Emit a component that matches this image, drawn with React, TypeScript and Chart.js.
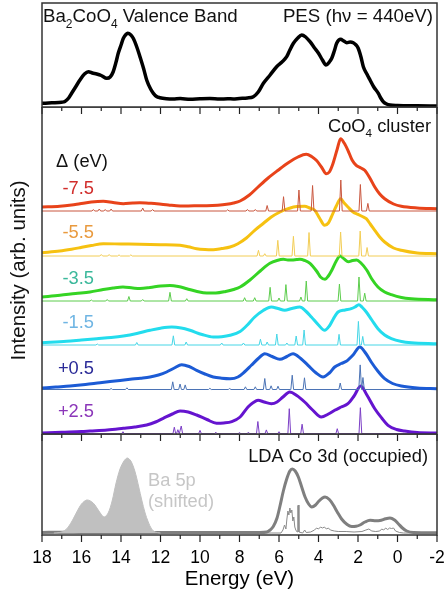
import React, { useEffect, useRef } from 'react';
import { Chart, registerables } from 'chart.js';
Chart.register(...registerables);

type Pair = [number, number];

// ---------- axis ----------
const E_MIN = -2;
const E_MAX = 18;
const xTickValues = [18, 16, 14, 12, 10, 8, 6, 4, 2, 0, -2];
const xTickLabels = ['18', '16', '14', '12', '10', '8', '6', '4', '2', '0', '-2'];

// ---------- top panel: PES (hv = 440 eV) ----------
const pesSpectrum: Pair[] = [
  [18.0, 3.7], [17.5, 4.2], [17.0, 4.8], [16.84, 5.5], [16.65, 9], [16.5, 13.7], [16.3, 20], [16.08, 27],
  [15.85, 33], [15.65, 35.3], [15.45, 34], [15.23, 33], [15.0, 31.5], [14.72, 28.7], [14.55, 30], [14.4, 35],
  [14.25, 45], [14.14, 53.7], [13.98, 63], [13.88, 68.7], [13.75, 72.5], [13.66, 73.7], [13.5, 72], [13.38, 68.7],
  [13.2, 60], [13.04, 50.3], [12.85, 38], [12.7, 27], [12.5, 18], [12.36, 13.7], [12.2, 10.5], [12.03, 9.3],
  [11.7, 8.3], [11.36, 8], [11.0, 8.4], [10.5, 7.7], [10.0, 8.2], [9.5, 8.5], [9.0, 7.9], [8.6, 8.3], [8.32, 8],
  [8.0, 8.5], [7.6, 9], [7.3, 10.3], [7.05, 15], [6.79, 23.7], [6.45, 32], [6.12, 40.3], [5.85, 45], [5.61, 50.3],
  [5.45, 57], [5.27, 63.7], [5.05, 69], [4.85, 72], [4.65, 70], [4.43, 65.3], [4.2, 59], [4.0, 53.7], [3.8, 47],
  [3.62, 42], [3.45, 45], [3.33, 48.7], [3.2, 56], [3.08, 63.7], [2.88, 67.7], [2.72, 66], [2.57, 64.3], [2.4, 65],
  [2.24, 64.3], [2.1, 62], [1.99, 58.7], [1.85, 50], [1.73, 40.3], [1.55, 33], [1.39, 27], [1.2, 20], [0.97, 13.7],
  [0.85, 9], [0.72, 5.3], [0.55, 3], [0.38, 2], [0, 1.5], [-1, 1.2], [-2, 1],
];

// ---------- middle panel: CoO4 cluster, broadened spectra ----------
const deltaLabels = ['-7.5', '-5.5', '-3.5', '-1.5', '+0.5', '+2.5'];

const curveM75: Pair[] = [
  [18, 2], [17.1, 2.7], [16.5, 4], [16.08, 5.3], [15.5, 7], [14.9, 7.7], [14.4, 6.5], [13.88, 5.3], [13.4, 6],
  [13.04, 6.3], [12.6, 5.8], [12.19, 5.3], [11.6, 4], [11.01, 3], [10.3, 3.2], [9.66, 3.3], [9.1, 3.8], [8.65, 4.7],
  [8.3, 6], [7.97, 8], [7.5, 14], [7.06, 22], [6.55, 31], [6.05, 38.7], [5.55, 46], [5.04, 52], [4.62, 54.7],
  [4.35, 52.5], [4.11, 48.7], [3.85, 42], [3.61, 35.3], [3.45, 37], [3.27, 45.3], [3.05, 60], [2.88, 70.3],
  [2.7, 66], [2.51, 58.7], [2.3, 49], [2.09, 43.7], [1.85, 41], [1.66, 38.7], [1.4, 31], [1.15, 22], [0.9, 15],
  [0.65, 10.3], [0.2, 5], [-0.19, 2.7], [-1, 1], [-2, 0.3],
];
const curveM55: Pair[] = [
  [18, 1.3], [17.1, 3], [16.5, 4.8], [16.08, 6.3], [15.5, 8.5], [14.9, 10.3], [14.0, 10], [13.04, 9.7], [12.0, 9.3],
  [11.01, 8.7], [10.6, 7.3], [10.17, 5.3], [9.75, 4.5], [9.33, 4.3], [8.9, 5.5], [8.48, 7], [8.08, 10.3], [7.65, 16],
  [7.23, 23.7], [6.8, 30.5], [6.39, 37], [5.95, 42], [5.54, 45.3], [5.1, 47.5], [4.7, 47.7], [4.45, 46], [4.19, 43.7],
  [3.95, 36], [3.69, 28.7], [3.5, 31], [3.35, 37], [3.1, 48], [2.88, 55.3], [2.7, 51], [2.51, 47], [2.25, 42],
  [2.0, 39.7], [1.78, 37.5], [1.58, 35.3], [1.38, 30], [1.15, 23.7], [0.9, 17], [0.65, 12], [0.2, 6], [-0.19, 3.7],
  [-1, 1], [-2, 0.3],
];
const curveM35: Pair[] = [
  [18, 3], [17.09, 4.7], [16.3, 6.5], [15.57, 8], [14.9, 10.5], [14.4, 12], [13.9, 13], [13.4, 12], [13.04, 11.5],
  [12.53, 12.5], [12.0, 14], [11.52, 14.5], [11.1, 13.5], [10.67, 11.3], [10.15, 8.5], [9.66, 7], [9.2, 7],
  [8.7, 8.5], [8.3, 10.5], [7.97, 13], [7.47, 20], [6.95, 29], [6.46, 36.7], [6.1, 39.5], [5.78, 40.7], [5.55, 40],
  [5.34, 40], [5.1, 40.5], [4.94, 40.7], [4.7, 39.5], [4.43, 36.7], [4.1, 29], [3.9, 23], [3.67, 20.7], [3.5, 24],
  [3.32, 30], [3.1, 39], [2.91, 44], [2.7, 41], [2.49, 38.3], [2.28, 39.5], [2.07, 40], [1.85, 37], [1.56, 30],
  [1.3, 21], [0.99, 13], [0.65, 8], [0.31, 5.3], [-0.2, 2.5], [-0.7, 1.3], [-2, 0.3],
];
const curveM15: Pair[] = [
  [18, 1.3], [16.75, 2.7], [16.0, 4], [15.23, 5.3], [14.5, 6.5], [13.88, 8], [13.2, 10.5], [12.53, 13.7],
  [12.0, 15.8], [11.43, 17], [10.95, 16], [10.51, 13.7], [9.9, 9.5], [9.33, 7], [8.9, 7.3], [8.48, 8.7],
  [7.97, 12.5], [7.6, 19], [7.23, 27], [6.8, 33.5], [6.39, 37], [6.05, 35.5], [5.71, 33.7], [5.35, 35.5],
  [4.95, 37], [4.65, 33], [4.36, 27], [4.0, 19], [3.69, 13.7], [3.45, 18], [3.25, 25], [3.01, 32], [2.65, 34],
  [2.34, 35.3], [2.15, 37], [1.96, 39.3], [1.78, 36.5], [1.58, 32], [1.3, 24], [0.99, 15.3], [0.65, 9],
  [0.31, 5.3], [-0.2, 2.5], [-0.7, 1.3], [-2, 0.3],
];
const curveP05: Pair[] = [
  [18, 1], [17.3, 2], [16.58, 3], [15.8, 4.5], [15.06, 6.3], [14.3, 8], [13.54, 9.7], [13.0, 10.8], [12.53, 12],
  [12.1, 14], [11.69, 17], [11.3, 21], [10.93, 24.3], [10.55, 22.5], [10.17, 18.7], [9.75, 15], [9.33, 12],
  [8.9, 10.8], [8.48, 10.3], [8.08, 12], [7.75, 17], [7.4, 23.7], [7.05, 30.5], [6.72, 35.3], [6.35, 32.5],
  [5.96, 29.7], [5.6, 32.5], [5.29, 35.3], [4.9, 30.5], [4.53, 23.7], [4.15, 16.5], [3.77, 12], [3.45, 16],
  [3.18, 22], [2.85, 25.5], [2.59, 27.7], [2.25, 34], [1.91, 42], [1.6, 35.5], [1.33, 27], [1.0, 18],
  [0.65, 10.3], [0.25, 5.5], [-0.19, 3], [-1, 1], [-2, 0.3],
];
const curveP25: Pair[] = [
  [18, 0], [17, 0.8], [16, 1.5], [15.57, 2], [14.7, 3], [13.88, 4.7], [13.3, 6], [12.7, 8], [12.25, 11],
  [11.86, 14.7], [11.4, 19], [11.01, 22], [10.6, 21], [10.17, 18], [9.65, 13.5], [9.16, 9.7], [8.8, 10],
  [8.39, 11.3], [7.97, 16], [7.57, 26], [7.3, 30.5], [7.06, 32.7], [6.75, 31], [6.39, 29.3], [6.1, 31], [5.8, 36],
  [5.46, 41], [5.1, 37.5], [4.7, 31], [4.3, 23], [3.86, 16], [3.5, 19], [3.18, 22.7], [2.85, 26], [2.51, 29.3],
  [2.2, 37], [1.86, 47], [1.55, 38], [1.15, 24.3], [0.8, 15], [0.48, 7.7], [0.05, 3.5], [-0.36, 2], [-1, 0.5],
  [-2, 0],
];

// ---------- middle panel: stick (multiplet) spectra [energy, height] ----------
const sticksM75: Pair[] = [
  [15.4, 1.5], [15.1, 2], [14.8, 1.5], [14.5, 2], [12.9, 3], [12.4, 1.5], [8.6, 1.2], [7.6, 1.5], [7.2, 1.5],
  [6.6, 5.5], [5.77, 14.3], [4.99, 21], [4.3, 25.5], [2.87, 31], [1.88, 26.5], [1.5, 7.6],
];
const sticksM55: Pair[] = [
  [15.0, 1.5], [14.6, 1.5], [14.1, 1.2], [13.5, 1.2], [7.04, 5.7], [6.72, 2.3], [6.06, 15.7], [5.27, 19.7],
  [4.48, 23.5], [2.88, 24], [1.89, 25], [1.54, 8.5],
];
const sticksM35: Pair[] = [
  [15.5, 1], [14.7, 1.5], [13.6, 4.5], [12.9, 1.5], [11.52, 8.7], [10.67, 2.3], [7.74, 3.3], [7.23, 3.3],
  [6.45, 13.7], [6.0, 3], [5.65, 16.4], [4.89, 4], [4.62, 20], [2.94, 17], [1.95, 24], [1.66, 7.8],
];
const sticksM15: Pair[] = [
  [15.2, 1], [13.2, 2.5], [11.35, 9.2], [10.7, 3], [8.9, 2], [7.8, 2], [6.94, 5.8], [6.6, 3], [6.11, 11],
  [5.6, 2], [5.13, 9], [4.73, 15], [2.96, 10.7], [1.98, 23.6], [1.76, 8.6],
];
const sticksP05: Pair[] = [
  [14.5, 1], [13.7, 1.7], [11.38, 7.7], [11.01, 5.5], [10.75, 4.6], [9.5, 1.2], [8.5, 1], [7.7, 2.7], [7.2, 2.7],
  [6.72, 11], [6.4, 3.7], [6.05, 3.3], [5.33, 14.3], [4.71, 11.7], [2.9, 6.5], [1.89, 24.6], [1.75, 12],
];
const sticksP25: Pair[] = [
  [13.9, 2], [11.3, 6.5], [11.12, 4], [10.95, 7.7], [10.0, 3.3], [9.2, 1.5], [8.0, 1.2], [7.55, 1.5], [7.07, 12.2],
  [6.64, 3.8], [6.0, 2], [5.48, 25], [4.83, 9.5], [3.05, 5], [1.88, 26],
];

const curveOffsets = [225, 180, 134, 90, 45, 1];
const stickOffsets = [223, 178, 133, 89, 44.5, 0.3];

// ---------- bottom panel: LDA ----------
const ldaCo3d: Pair[] = [
  [18, 0.6], [17, 0.8], [16, 0.6], [14, 0.5], [12, 0.4], [10, 0.5], [8, 0.4], [7, 0.5], [6.62, 1], [6.45, 3],
  [6.29, 6.5], [6.1, 15], [5.95, 27], [5.78, 42], [5.61, 54], [5.45, 62], [5.33, 64], [5.18, 62], [5.02, 56],
  [4.85, 46], [4.68, 36], [4.5, 29], [4.34, 26], [4.15, 28], [4.0, 31.5], [3.8, 35], [3.67, 36], [3.45, 33.5],
  [3.25, 28], [3.05, 21], [2.83, 14], [2.55, 8.5], [2.32, 6.5], [2.1, 6.8], [1.9, 8], [1.65, 11], [1.39, 12.7],
  [1.1, 12.3], [0.89, 12.5], [0.6, 14.3], [0.38, 15], [0.15, 13], [-0.04, 9.3], [-0.25, 5], [-0.47, 2],
  [-0.8, 0.6], [-2, 0.3],
];
const ldaCo3dRaw: Pair[] = [
  [18, 0], [6.4, 0], [5.9, 0], [5.8, 3], [5.72, 8], [5.65, 4], [5.6, 14], [5.55, 22], [5.5, 18], [5.45, 25],
  [5.4, 20], [5.35, 23], [5.3, 12], [5.25, 16], [5.2, 6], [5.15, 3], [5.08, 1], [5.05, 27], [5.02, 28], [4.99, 1],
  [4.8, 0], [4.7, 3], [4.62, 0.5], [4.4, 1], [4.2, 3], [4.1, 5], [4.0, 4], [3.9, 6], [3.8, 5], [3.7, 6], [3.6, 4],
  [3.5, 5], [3.4, 3], [3.2, 2], [3.0, 1.5], [2.6, 1.5], [2.2, 1], [1.8, 1.5], [1.6, 3], [1.45, 4], [1.3, 2],
  [1.1, 1.5], [0.9, 2], [0.8, 4], [0.7, 3], [0.6, 5], [0.5, 3.5], [0.4, 5], [0.3, 4.5], [0.2, 5], [0.1, 2],
  [-0.1, 0.5], [-0.3, 0], [-2, 0],
];
const ba5pShifted: Pair[] = [
  [17.4, 0], [17.1, 0.5], [16.85, 2.5], [16.67, 6], [16.45, 13], [16.24, 21], [16.0, 29], [15.74, 33], [15.5, 31.5],
  [15.32, 28], [15.05, 20], [14.85, 16], [14.65, 20], [14.45, 32], [14.25, 50], [14.05, 64], [13.85, 72],
  [13.68, 75], [13.5, 72], [13.3, 62], [13.1, 46], [12.95, 33], [12.78, 20], [12.62, 11], [12.45, 4],
  [12.28, 1], [12.0, 0],
];
const ldaOffset = 2;

// ---------- styles ----------
const FONT = "Arial, 'Liberation Sans', sans-serif";
const lineColors = ['#e8431a', '#f6c111', '#35d424', '#23dced', '#1c5bd5', '#6514cf'];
const stickColors = ['#c9573f', '#f2cd55', '#5ccc4c', '#46d6e6', '#4b73b5', '#7c3fc6'];
const labelColors = ['#d12d2b', '#e99a3e', '#3bb89b', '#6fb5e3', '#2b2b98', '#8b36b9'];
const labelBaselines = [194, 238, 284, 328, 374, 417];
const TEXT_TOP = 18.7;
const TEXT_SIZE = 18.3;

type Seg = [string, boolean?];
interface TextItem {
  segs: Seg[];
  x: number;
  y: number;
  align: 'left' | 'right';
  size: number;
  color: string;
}

const toXY = (pairs: Pair[], off: number) => pairs.map(([e, v]) => ({ x: e, y: v + off }));

const sticksToXY = (sticks: Pair[], off: number) => {
  const w = 0.07;
  const sorted = [...sticks].sort((a, b) => b[0] - a[0]);
  const pts: { x: number; y: number }[] = [{ x: E_MAX, y: off }];
  sorted.forEach(([e, h]) => {
    pts.push({ x: e + w, y: off }, { x: e, y: off + h }, { x: e - w, y: off });
  });
  pts.push({ x: E_MIN, y: off });
  return pts;
};

function drawRich(ctx: CanvasRenderingContext2D, t: TextItem, dy: number) {
  const subSize = t.size * 0.64;
  let total = 0;
  const widths = t.segs.map(([s, sub]) => {
    ctx.font = `${sub ? subSize : t.size}px ${FONT}`;
    const w = ctx.measureText(s).width;
    total += w;
    return w;
  });
  let x = t.align === 'right' ? t.x - total : t.x;
  ctx.fillStyle = t.color;
  ctx.textBaseline = 'alphabetic';
  ctx.textAlign = 'left';
  t.segs.forEach(([s, sub], i) => {
    ctx.font = `${sub ? subSize : t.size}px ${FONT}`;
    ctx.fillText(s, x, t.y - dy + (sub ? t.size * 0.3 : 0));
    x += widths[i];
  });
}

function framePlugin(texts: TextItem[], canvasTop: number) {
  return {
    id: 'frameTicksTexts',
    afterDraw(chart: any) {
      const { ctx, chartArea: a, scales } = chart;
      const xs = scales.x;
      ctx.save();
      ctx.strokeStyle = '#333';
      ctx.lineWidth = 1.5;
      ctx.strokeRect(a.left, a.top, a.right - a.left, a.bottom - a.top);
      ctx.lineWidth = 1.2;
      ctx.strokeStyle = '#222';
      for (let e = E_MIN; e <= E_MAX; e++) {
        const px = xs.getPixelForValue(e);
        const len = Math.abs(e % 2) === 0 ? 7 : 4;
        ctx.beginPath();
        ctx.moveTo(px, a.bottom);
        ctx.lineTo(px, a.bottom + len);
        ctx.stroke();
      }
      texts.forEach((t) => drawRich(ctx, t, canvasTop));
      ctx.restore();
    },
  };
}

const hiddenX = { type: 'linear', min: E_MIN, max: E_MAX, reverse: true, display: false };

const common = {
  animation: false,
  responsive: false,
  maintainAspectRatio: false,
  events: [],
  elements: { point: { radius: 0 } },
  plugins: { legend: { display: false }, tooltip: { enabled: false } },
};

function cfgTop(): any {
  const texts: TextItem[] = [
    { segs: [['Ba'], ['2', true], ['CoO'], ['4', true], [' Valence Band']], x: 43, y: 22, align: 'left', size: TEXT_TOP, color: '#111' },
    { segs: [['PES (h\u03bd = 440eV)']], x: 433, y: 22, align: 'right', size: TEXT_TOP, color: '#111' },
  ];
  return {
    type: 'line',
    data: {
      datasets: [
        { data: toXY(pesSpectrum, 0), borderColor: '#000', borderWidth: 3.5, cubicInterpolationMode: 'monotone', pointRadius: 0 },
      ],
    },
    options: {
      ...common,
      layout: { padding: { left: 42, right: 9, top: 3, bottom: 9 } },
      scales: { x: hiddenX, y: { type: 'linear', min: 0, max: 104, display: false } },
    },
    plugins: [framePlugin(texts, 0)],
  };
}

function cfgMid(): any {
  const curves = [curveM75, curveM55, curveM35, curveM15, curveP05, curveP25];
  const sticks = [sticksM75, sticksM55, sticksM35, sticksM15, sticksP05, sticksP25];
  const datasets: any[] = [];
  curves.forEach((c, i) => {
    datasets.push({ data: toXY(c, curveOffsets[i]), borderColor: lineColors[i], borderWidth: 3, cubicInterpolationMode: 'monotone', pointRadius: 0 });
    datasets.push({ data: sticksToXY(sticks[i], stickOffsets[i]), borderColor: stickColors[i], borderWidth: 1, tension: 0, pointRadius: 0 });
  });
  const texts: TextItem[] = [
    { segs: [['CoO'], ['4', true], [' cluster']], x: 431, y: 132, align: 'right', size: TEXT_SIZE, color: '#111' },
    { segs: [['\u0394 (eV)']], x: 56, y: 167, align: 'left', size: TEXT_SIZE, color: '#111' },
    ...deltaLabels.map((l, i) => ({ segs: [[l]] as Seg[], x: 94, y: labelBaselines[i], align: 'right' as const, size: TEXT_SIZE, color: labelColors[i] })),
  ];
  return {
    type: 'line',
    data: { datasets },
    options: {
      ...common,
      layout: { padding: { left: 0, right: 9, top: 0, bottom: 9 } },
      scales: {
        x: hiddenX,
        y: {
          type: 'linear', min: 0, max: 327, display: true,
          ticks: { display: false },
          grid: { display: false, drawTicks: false },
          border: { display: false },
          title: { display: true, text: 'Intensity (arb. units)', color: '#111', font: { size: 20.5, family: FONT }, padding: { top: 7, bottom: 0 } },
          afterFit: (s: any) => { s.width = 42; },
        },
      },
    },
    plugins: [framePlugin(texts, 107)],
  };
}

function cfgBottom(): any {
  const texts: TextItem[] = [
    { segs: [['LDA Co 3d (occupied)']], x: 428, y: 462, align: 'right', size: TEXT_SIZE, color: '#111' },
    { segs: [['Ba 5p']], x: 148, y: 486, align: 'left', size: TEXT_SIZE, color: '#c6c6c6' },
    { segs: [['(shifted)']], x: 148, y: 507, align: 'left', size: TEXT_SIZE, color: '#c6c6c6' },
  ];
  return {
    type: 'line',
    data: {
      datasets: [
        { data: toXY(ba5pShifted, ldaOffset), borderColor: '#c0c0c0', backgroundColor: '#c0c0c0', borderWidth: 1, fill: { value: ldaOffset }, tension: 0.3, pointRadius: 0 },
        { data: toXY(ldaCo3d, ldaOffset), borderColor: '#7f7f7f', borderWidth: 3, cubicInterpolationMode: 'monotone', pointRadius: 0 },
        { data: toXY(ldaCo3dRaw, ldaOffset), borderColor: '#8a8a8a', borderWidth: 1, tension: 0, pointRadius: 0 },
      ],
    },
    options: {
      ...common,
      layout: { padding: { left: 42, right: 9, top: 0, bottom: 0 } },
      scales: {
        x: {
          type: 'linear', min: E_MIN, max: E_MAX, reverse: true, display: true,
          afterBuildTicks: (s: any) => { s.ticks = xTickValues.map((v) => ({ value: v })); },
          ticks: {
            autoSkip: false, maxRotation: 0, padding: 13, color: '#000',
            font: { size: 17.5, family: FONT },
            callback: (v: number) => { const i = xTickValues.indexOf(v); return i >= 0 ? xTickLabels[i] : ''; },
          },
          grid: { display: false, drawTicks: false },
          border: { display: false },
          title: { display: true, text: 'Energy (eV)', color: '#000', font: { size: 20.5, family: FONT }, padding: { top: 0, bottom: 6 } },
          afterFit: (s: any) => { s.height = 63; s.paddingLeft = 0; s.paddingRight = 0; },
        },
        y: { type: 'linear', min: 0, max: 101, display: false },
      },
    },
    plugins: [framePlugin(texts, 434)],
  };
}

export default function App() {
  const r1 = useRef<HTMLCanvasElement>(null);
  const r2 = useRef<HTMLCanvasElement>(null);
  const r3 = useRef<HTMLCanvasElement>(null);
  useEffect(() => {
    const charts = [
      new Chart(r1.current!, cfgTop()),
      new Chart(r2.current!, cfgMid()),
      new Chart(r3.current!, cfgBottom()),
    ];
    return () => charts.forEach((c) => c.destroy());
  }, []);
  return (
    <div style={{ position: 'absolute', left: 0, top: 0, width: 446, height: 598, background: '#fff' }}>
      <canvas ref={r1} width={446} height={116} style={{ position: 'absolute', left: 0, top: 0 }} />
      <canvas ref={r2} width={446} height={336} style={{ position: 'absolute', left: 0, top: 107 }} />
      <canvas ref={r3} width={446} height={164} style={{ position: 'absolute', left: 0, top: 434 }} />
    </div>
  );
}
